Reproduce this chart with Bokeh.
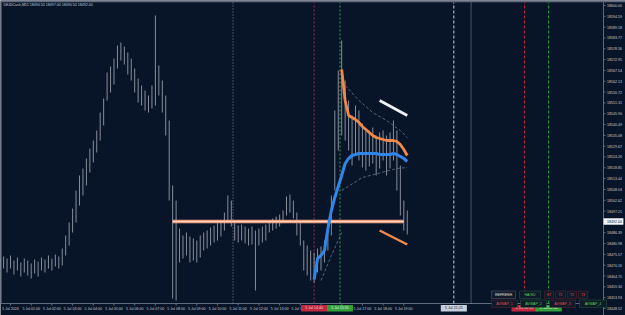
import math
from bokeh.plotting import figure
from bokeh.models import Range1d, Label, BoxAnnotation
from bokeh.embed import file_html
from bokeh.resources import INLINE

BG = "#081428"
FONT = "Liberation Sans"
AX = "#5f6b7d"
TXT = "#c4cad4"

# ---------------- data ----------------
# 10-minute bars, hours since 5 Jul 2024 00:00 (first bar 4 Jul 23:30)
bar_highs = [18473.5, 18474.5, 18473.5, 18475.0, 18472.5, 18474.0, 18471.5, 18473.5, 18472.5, 18471.0,
             18473.0, 18472.0, 18474.0, 18473.0, 18475.0, 18473.5, 18475.5, 18474.5, 18478.5, 18485.0,
             18491.5, 18498.5, 18507.5, 18515.0, 18518.5, 18523.5, 18528.5, 18532.5, 18537.5, 18546.5,
             18553.5, 18566.5, 18569.5, 18573.5, 18580.0, 18581.5, 18579.5, 18576.5, 18573.5, 18568.5,
             18563.5, 18560.0, 18557.5, 18555.0, 18560.0, 18595.0, 18570.0, 18562.5, 18555.0, 18542.5,
             18510.0, 18502.5, 18488.5, 18485.0, 18486.5, 18484.5, 18483.5, 18482.5, 18485.0, 18486.5,
             18487.5, 18489.0, 18490.0, 18491.5, 18492.5, 18496.5, 18505.0, 18502.5, 18491.5, 18490.0,
             18490.5, 18489.5, 18488.5, 18489.5, 18487.5, 18488.5, 18489.5, 18490.5, 18492.5, 18493.5,
             18494.5, 18495.5, 18497.5, 18504.5, 18505.5, 18502.5, 18496.5, 18492.5, 18482.5, 18480.0,
             18477.5, 18476.5, 18478.5, 18479.5, 18482.5, 18492.5, 18505.0, 18547.5, 18567.5, 18582.5,
             18562.5, 18552.5, 18545.0, 18550.0, 18547.5, 18541.0, 18537.5, 18537.5, 18539.0, 18535.0,
             18536.5, 18537.5, 18535.0, 18536.5, 18542.5, 18537.5, 18520.0, 18502.5, 18497.5]
bar_lows = [18467.5, 18468.5, 18466.5, 18468.5, 18465.5, 18467.5, 18464.5, 18466.5, 18465.0, 18463.5,
            18466.0, 18464.5, 18467.5, 18466.5, 18468.5, 18467.5, 18469.5, 18468.5, 18470.0, 18475.0,
            18480.0, 18486.5, 18491.5, 18500.0, 18505.0, 18510.0, 18516.5, 18521.5, 18526.5, 18532.5,
            18540.0, 18552.5, 18556.5, 18560.5, 18568.5, 18572.5, 18570.5, 18565.5, 18562.5, 18556.5,
            18551.5, 18550.0, 18547.5, 18546.5, 18548.5, 18550.0, 18555.0, 18546.5, 18535.0, 18502.5,
            18453.5, 18452.5, 18471.5, 18473.5, 18475.0, 18471.5, 18472.5, 18471.5, 18474.0, 18477.5,
            18478.5, 18480.0, 18481.5, 18482.5, 18484.5, 18487.5, 18491.5, 18489.5, 18482.5, 18481.5,
            18482.5, 18481.0, 18480.0, 18480.5, 18457.5, 18480.0, 18481.5, 18482.5, 18486.5, 18487.5,
            18488.5, 18489.5, 18491.5, 18495.0, 18496.5, 18493.5, 18485.0, 18480.0, 18467.5, 18465.0,
            18462.5, 18461.5, 18466.5, 18467.5, 18471.5, 18477.5, 18485.0, 18507.5, 18527.5, 18535.0,
            18532.5, 18527.5, 18520.0, 18525.0, 18522.5, 18519.0, 18517.5, 18519.5, 18521.0, 18515.0,
            18518.5, 18522.5, 18515.0, 18518.5, 18522.5, 18507.5, 18495.0, 18487.5, 18485.5]
bar_times = [-0.5 + i / 6 for i in range(len(bar_highs))]

# anchored VWAP (orange) and second VWAP (blue), by bar index
vwap_orange_start = 99
vwap_orange = [18568.0, 18552.5, 18545.0, 18544.0, 18543.0, 18541.5, 18539.5, 18538.0, 18536.5, 18535.0,
               18534.0, 18533.5, 18533.0, 18532.5, 18532.5, 18532.5, 18532.0, 18530.5, 18528.0, 18525.0]
vwap_blue_start = 91
vwap_blue = [18463.0, 18473.5, 18475.0, 18477.5, 18488.5, 18497.5, 18504.0, 18509.5, 18515.0,
             18521.0, 18523.5, 18525.0, 18525.5, 18526.0, 18526.0, 18526.0, 18526.0, 18526.0, 18526.0,
             18525.5, 18525.5, 18525.5, 18525.5, 18526.0, 18525.5, 18524.5, 18523.5, 18522.0]
band_upper_idx = [100, 104, 108, 112, 116, 118]
band_upper = [18560.0, 18552.5, 18546.5, 18542.5, 18537.5, 18534.0]
band_lower_idx = [99, 105, 115, 118]
band_lower = [18507.5, 18514.0, 18518.5, 18519.0]
band_low2_idx = [93, 96, 99]
band_low2 = [18462.5, 18475.0, 18486.5]
white_idx = [110, 118]
white_vals = [18552.5, 18545.0]
orange_low_idx = [110, 118]
orange_low_vals = [18487.5, 18480.5]
level_price = 18492.0
level_idx = [50, 117]
current_price = 18492.0

price_ticks = [18600.00, 18594.59, 18589.18, 18583.77, 18578.36, 18572.95, 18567.54, 18562.13, 18556.72,
               18551.31, 18545.90, 18540.49, 18535.08, 18529.67, 18524.26, 18518.85, 18513.44, 18508.03,
               18502.62, 18497.21, 18486.39, 18480.98, 18475.57, 18470.16, 18464.75, 18459.34,
               18453.93, 18448.52]
time_ticks = list(range(20))
time_labels = ["5 Jul 2024", "5 Jul 01:00", "5 Jul 02:00", "5 Jul 03:00", "5 Jul 04:00", "5 Jul 05:00",
               "5 Jul 06:00", "5 Jul 07:00", "5 Jul 08:00", "5 Jul 09:00", "5 Jul 10:00", "5 Jul 11:00",
               "5 Jul 12:00", "5 Jul 13:00", "5 Jul 14:00", "5 Jul 15:00", "5 Jul 16:00", "5 Jul 17:00",
               "5 Jul 18:00", "5 Jul 19:00"]

# vertical time markers
marker_times = [10.75, 14.667, 15.917, 21.417, 22.25, 24.833, 26.0]
marker_colors = ["#7d8899", "#a82a40", "#38a047", "#c8d2de", "#8a94a6", "#c0283a", "#30a840"]
marker_dash = ["1 2", "2 2", "2 2", "3 2", "1 1", "3 2", "3 2"]
marker_tags = [None, "5 Jul 14:40", "5 Jul 15:55", "5 Jul 21:25", None, "6 Jul 00:50", "6 Jul 02:00"]
marker_tag_fill = [None, "#c0283e", "#34a03a", "#c6d0dc", None, "#c0283e", "#34a03a"]
marker_tag_text = [None, "#f6d0d4", "#e0f8e0", "#1a2436", None, "#f6d0d4", "#e0f8e0"]

title_text = "DE40Cash,M15  18494.50 18497.00 18490.50 18492.00"

buttons = [  # text, left, right, top, bottom (canvas px), text colour, border colour
    ("REFRESH", 491, 515, 290.5, 298, "#e6e6e6", "#8a8f99"),
    ("HA/SD", 519, 540, 290.5, 298, "#52d452", "#2f8f3a"),
    ("ST", 544, 553, 290.5, 298, "#e04848", "#a0282e"),
    ("T1", 555, 565, 290.5, 298, "#e04848", "#a0282e"),
    ("T2", 567, 576, 290.5, 298, "#e04848", "#a0282e"),
    ("T3", 578, 587, 290.5, 298, "#e04848", "#a0282e"),
    ("AVWAP_1", 491, 517, 299.5, 307, "#e04848", "#a0282e"),
    ("AVWAP_2", 520, 546, 299.5, 307, "#52d452", "#2f8f3a"),
    ("AVWAP_3", 549, 575, 299.5, 307, "#e04848", "#a0282e"),
    ("AVWAP_4", 579, 606, 299.5, 307, "#52d452", "#2f8f3a"),
]

# ---------------- layout of the chart window (terminal style) ----------------
W, H = 625, 315
X0, X1 = -0.483, 29.71          # hours across the whole window
Y0, Y1 = 18445.0, 18602.5       # prices across the whole window
CHART_RIGHT = 28.648            # time-axis end / price-scale start
CHART_BOTTOM = 18451.0          # price at the time-axis line
CHART_TOP = 18601.5

p = figure(width=W, height=H, output_backend="svg", toolbar_location=None,
           x_range=Range1d(X0, X1), y_range=Range1d(Y0, Y1),
           x_axis_location=None, y_axis_location=None,
           min_border=0, background_fill_color=BG, border_fill_color=BG)
p.outline_line_color = None
p.xgrid.visible = False
p.ygrid.visible = False

# window frame
p.segment(x0=[X0, X0 + 0.02], y0=[CHART_TOP + 0.5, CHART_BOTTOM], x1=[X1, X0 + 0.02], y1=[CHART_TOP + 0.5, CHART_TOP + 0.5],
          line_color=AX, line_width=1.5)
p.segment(x0=[X0, CHART_RIGHT], y0=[CHART_BOTTOM, Y0], x1=[CHART_RIGHT, CHART_RIGHT], y1=[CHART_BOTTOM, CHART_TOP + 0.5],
          line_color=AX, line_width=1)

# price scale (right)
p.ray(x=[CHART_RIGHT] * len(price_ticks), y=price_ticks, length=2, length_units="screen", angle=0,
      line_color=AX, line_width=1)
p.text(x=[CHART_RIGHT] * len(price_ticks), y=price_ticks, text=["%.2f" % v for v in price_ticks],
       x_offset=3.5, text_align="left", text_baseline="middle", text_font_size="3.6px",
       text_font={"value": FONT}, text_color=TXT)

# time scale (bottom)
p.ray(x=time_ticks, y=[CHART_BOTTOM] * len(time_ticks), length=2, length_units="screen", angle=-math.pi / 2,
      line_color=AX, line_width=1)
p.text(x=time_ticks, y=[CHART_BOTTOM] * len(time_ticks), text=time_labels, y_offset=5,
       text_align="center", text_baseline="middle", text_font_size="3.6px",
       text_font={"value": FONT}, text_color=TXT)

# vertical markers
for t, c, d in zip(marker_times, marker_colors, marker_dash):
    p.segment(x0=[t], y0=[CHART_BOTTOM], x1=[t], y1=[CHART_TOP], line_color=c, line_dash=d, line_width=1)

# price bars
p.segment(x0=bar_times, y0=bar_lows, x1=bar_times, y1=bar_highs, line_color="#959ca7", line_width=0.9)

# bands
p.line([bar_times[i] for i in band_upper_idx], band_upper, line_color="#56647a", line_dash="3 2", line_width=1)
p.line([bar_times[i] for i in band_lower_idx], band_lower, line_color="#56647a", line_dash="3 2", line_width=1)
p.line([bar_times[i] for i in band_low2_idx], band_low2, line_color="#56647a", line_dash="3 2", line_width=1)

# horizontal level
lx = [bar_times[i] for i in level_idx]
p.line(lx, [level_price, level_price], line_color="#f2a081", line_width=3.6)
p.line(lx, [level_price, level_price], line_color="#fbd9cb", line_width=0.9)

# VWAP lines
p.line(bar_times[vwap_blue_start:vwap_blue_start + len(vwap_blue)], vwap_blue,
       line_color="#2f86e6", line_width=3)
p.line(bar_times[vwap_orange_start:vwap_orange_start + len(vwap_orange)], vwap_orange,
       line_color="#f0894a", line_width=2.8)
p.line([bar_times[i] for i in white_idx], white_vals, line_color="#eef2f7", line_width=2.8)
p.line([bar_times[i] for i in orange_low_idx], orange_low_vals, line_color="#f0894a", line_width=2.5)

# title
p.add_layout(Label(x=3, y=H - 4.5, x_units="screen", y_units="screen", text=title_text,
                   text_font=FONT, text_font_size="3.6px", text_color=TXT, text_baseline="middle"))

# marker tags on the time axis
for t, tag, fill, tc in zip(marker_times, marker_tags, marker_tag_fill, marker_tag_text):
    if tag is None:
        continue
    p.add_layout(BoxAnnotation(left=t - 0.63, right=t + 0.63, left_units="data", right_units="data",
                               bottom=H - 311, top=H - 304.5, bottom_units="screen", top_units="screen",
                               fill_color=fill, fill_alpha=1, line_color=None))
    p.add_layout(Label(x=t, y=H - 307.75, x_units="data", y_units="screen", text=tag,
                       text_font=FONT, text_font_size="3.6px", text_color=tc,
                       text_align="center", text_baseline="middle"))

# current price tag
p.add_layout(BoxAnnotation(left=CHART_RIGHT, right=X1 - 0.1, left_units="data", right_units="data",
                           bottom=current_price - 1.6, top=current_price + 1.6,
                           fill_color="#f2f4f7", fill_alpha=1, line_color=None))
p.add_layout(Label(x=CHART_RIGHT, y=current_price, x_offset=3.5, text="%.2f" % current_price,
                   text_font=FONT, text_font_size="3.6px", text_color="#081428",
                   text_align="left", text_baseline="middle"))

# buttons
for txt, l, r, t, b, tc, bc in buttons:
    p.add_layout(BoxAnnotation(left=l, right=r, top=H - t, bottom=H - b,
                               left_units="screen", right_units="screen",
                               top_units="screen", bottom_units="screen",
                               fill_color="#101a2a", fill_alpha=1, line_color=bc, line_width=1))
    p.add_layout(Label(x=(l + r) / 2, y=H - (t + b) / 2, x_units="screen", y_units="screen",
                       text=txt, text_font=FONT, text_font_size="3.6px", text_color=tc,
                       text_align="center", text_baseline="middle"))

open("out.html", "w").write(file_html(p, INLINE))
